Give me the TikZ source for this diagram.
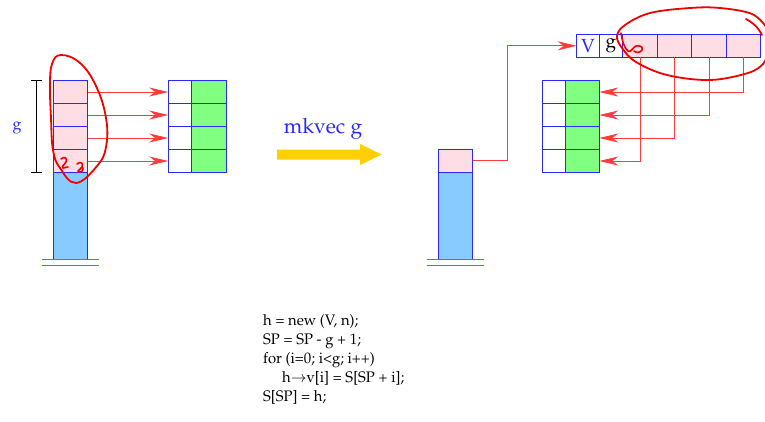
\documentclass[tikz,border=0pt]{standalone}
\usepackage[T1]{fontenc}
\usepackage{mathpazo}
\usepackage{graphicx}
\usetikzlibrary{arrows.meta}
\definecolor{cellblue}{RGB}{40,40,255}
\definecolor{pinkc}{RGB}{255,221,228}
\definecolor{stackc}{RGB}{136,204,255}
\definecolor{greenc}{RGB}{128,255,128}
\definecolor{arrred}{RGB}{255,60,60}
\definecolor{scribred}{RGB}{240,0,0}
\definecolor{yel}{RGB}{255,208,0}
\definecolor{baseblue}{RGB}{100,100,255}
\newcommand{\codetxt}[1]{\scalebox{1}[1.03]{#1}}
\tikzset{
  cell/.style={draw=cellblue, line width=0.9pt, inner sep=0pt, outer sep=0pt},
  pinkcell/.style={cell, fill=pinkc, minimum width=34.5pt, minimum height=23pt},
  stackbody/.style={cell, fill=stackc, minimum width=34.5pt, minimum height=86.7pt},
  wcell/.style={cell, fill=white, minimum width=23.5pt, minimum height=23pt},
  gcell/.style={cell, fill=greenc, minimum width=34.3pt, minimum height=23pt},
  arr/.style={draw=arrred, line width=0.8pt, -{Stealth[length=19pt,width=9pt,inset=6pt]}},
  scrib/.style={draw=scribred, line width=1.8pt, line cap=round, line join=round},
  baseline/.style={draw=baseblue, line width=1pt},
  codeline/.style={anchor=base west, inner sep=0pt, font=\fontsize{14.8}{18}\selectfont}
}
\begin{document}
\begin{tikzpicture}[x=1pt,y=-1pt]
\useasboundingbox (0,0) rectangle (765,421);

% ---------- left stack ----------
\node[pinkcell] (s1) at (70.5,92) {};
\node[pinkcell] (s2) at (70.5,115) {};
\node[pinkcell] (s3) at (70.5,138) {};
\node[pinkcell] (s4) at (70.5,161) {};
\node[stackbody] (sb) at (70.5,215.6) {};
\draw[baseline] (42,259) -- (99,259);
\draw[baseline] (42,265) -- (99,265);

% bracket g
\coordinate (bt) at (36.7,80.7);
\coordinate (bb) at (36.7,172.3);
\draw[line width=0.8pt] (bt) -- (bb);
\draw[line width=0.8pt] ([xshift=-5.5pt]bt) -- ([xshift=5.5pt]bt);
\draw[line width=0.8pt] ([xshift=-5.5pt]bb) -- ([xshift=5.5pt]bb);
\node[text=cellblue, font=\fontsize{16}{18}\selectfont] (glab) at (17,128) {g};

% left green block
\foreach \i/\y in {1/92,2/115,3/138,4/161}{
  \node[wcell] (lw\i) at (179.9,\y) {};
  \node[gcell] (lg\i) at (208.8,\y) {};
}
\foreach \i in {1,2,3,4}{
  \draw[arr] (s\i.east) -- (lw\i.west);
}

% scribble left
\draw[scrib] plot[smooth cycle, tension=0.7] coordinates {
  (61,55) (80,63) (96,86) (106,118) (106,147) (97,166) (76,183)
  (60,168) (53,150) (51,118) (50,86) (52,64)};
\draw[scrib, line width=1.6pt] (61,159) .. controls (64,156) and (68,158) .. (66,162)
  .. controls (64,165) and (61,167) .. (63,168) -- (68,167);
\draw[scrib, line width=1.6pt] (77,164) .. controls (80,161) and (84,163) .. (82,167)
  .. controls (80,170) and (76,171) .. (79,172) .. controls (82,172) and (84,170) .. (83,168);

% ---------- middle ----------
\node[text=cellblue, font=\fontsize{21}{24}\selectfont] (mk) at (323,129) {mkvec g};
\fill[yel] (277,149.5) -- (360,149.5) -- (360,144) -- (381.7,154.5) -- (360,165) -- (360,159.5) -- (277,159.5) -- cycle;

% ---------- right stack ----------
\node[pinkcell] (r1) at (455.5,160.8) {};
\node[stackbody] (rb) at (455.5,215.6) {};
\draw[baseline] (427,259) -- (484,259);
\draw[baseline] (427,265) -- (484,265);

% top vector
\node[cell, fill=white, minimum width=22.7pt, minimum height=23pt, text=cellblue,
  font=\fontsize{19}{20}\selectfont] (V) at (588,45.8) {V};
\node[cell, fill=white, minimum width=23.4pt, minimum height=23pt,
  font=\fontsize{19}{20}\selectfont] (G) at (611,45.8) {g};
\foreach \i/\x in {1/640,2/674.5,3/709,4/743.5}{
  \node[pinkcell] (p\i) at (\x,45.8) {};
}

% right green block
\foreach \i/\y in {1/92,2/115,3/138,4/161}{
  \node[wcell, minimum width=23pt] (rw\i) at (553.8,\y) {};
  \node[gcell, minimum width=34pt] (rg\i) at (582.3,\y) {};
}

\draw[arr] (r1.east) -- ++(35,0) |- (V.west);
\draw[arr] (p1.south) |- (rg4.east);
\draw[arr] (p2.south) |- (rg3.east);
\draw[arr] (p3.south) |- (rg2.east);
\draw[arr] (p4.south) |- (rg1.east);

% scribble right
\draw[scrib] plot[smooth, tension=0.6] coordinates {
  (767,28) (752,14) (720,8) (690,8) (650,13) (625,25) (617,36) (622,48) (636,62)
  (667,75) (710,80) (748,73) (763,64) (767,55)};
\draw[scrib] (746,19) .. controls (752,22) and (758,27) .. (762,35);
\draw[scrib, line width=1.6pt] (621,33) .. controls (622,40) and (624,48) .. (628,51)
  .. controls (631,53) and (633,47) .. (636,46) .. controls (639,45) and (644,47) .. (642,50)
  .. controls (640,53) and (636,53) .. (634,51);

% ---------- code ----------
\node[codeline] (c1) at (263,325) {\codetxt{h = new (V, n);}};
\node[codeline] (c2) at (263,344) {\codetxt{SP = SP - g + 1;}};
\node[codeline] (c3) at (263,363) {\codetxt{for (i=0; i<g; i++)}};
\node[codeline] (c4) at (282,382) {\codetxt{h$\rightarrow$v[i] = S[SP + i];}};
\node[codeline] (c5) at (263,401) {\codetxt{S[SP] = h;}};
\end{tikzpicture}
\end{document}
